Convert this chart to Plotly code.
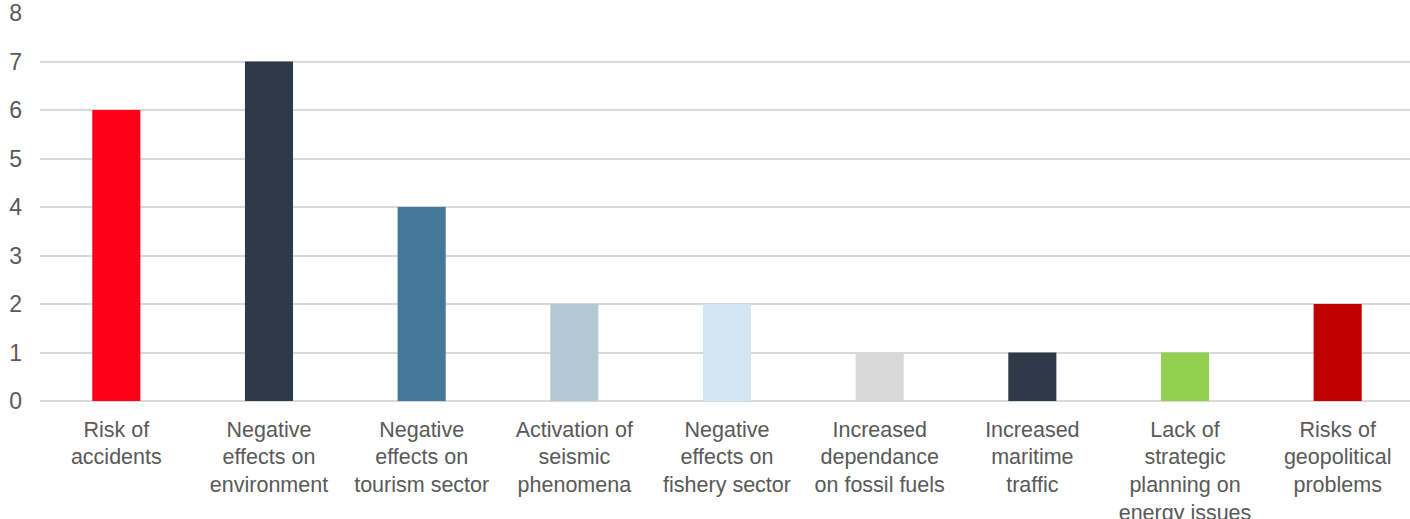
import plotly.graph_objects as go

categories = [
    "Risk of<br>accidents",
    "Negative<br>effects on<br>environment",
    "Negative<br>effects on<br>tourism sector",
    "Activation of<br>seismic<br>phenomena",
    "Negative<br>effects on<br>fishery sector",
    "Increased<br>dependance<br>on fossil fuels",
    "Increased<br>maritime<br>traffic",
    "Lack of<br>strategic<br>planning on<br>energy issues",
    "Risks of<br>geopolitical<br>problems",
]
values = [6, 7, 4, 2, 2, 1, 1, 1, 2]
colors = ["#FF0019", "#2E3A47", "#44779A", "#B4C8D4", "#D4E4F0",
          "#D8D8D8", "#2E3A47", "#92D050", "#C00000"]

fig = go.Figure(go.Bar(x=categories, y=values, marker_color=colors,
                       marker_line_width=0))
fig.update_layout(
    width=1414, height=519,
    margin=dict(l=40, r=0, t=13, b=118),
    plot_bgcolor="white", paper_bgcolor="white",
    bargap=0.685,
    showlegend=False,
    font=dict(family="Liberation Sans, Arial, sans-serif", size=21.5, color="#595959"),
)
fig.update_xaxes(showgrid=False, showline=False, ticks="", tickangle=0,
                 automargin=False,
                 tickfont=dict(size=21.5, color="#595959"), ticklabelstandoff=13)
fig.update_yaxes(range=[0, 8], dtick=1, showgrid=True, gridcolor="#D9D9D9",
                 gridwidth=1.5, zeroline=True, zerolinecolor="#D9D9D9",
                 zerolinewidth=1.5, showline=False, ticks="", automargin=False,
                 tickfont=dict(size=23, color="#595959"), ticklabelstandoff=17)
fig.write_html("out.html", config={"displayModeBar": False},
               post_script="document.body.style.margin='0';document.body.style.overflow='hidden';")
